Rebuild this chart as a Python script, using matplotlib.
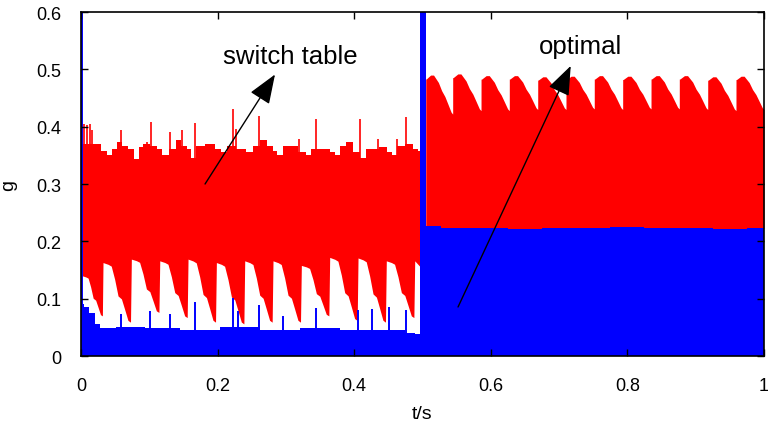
import numpy as np
import matplotlib
matplotlib.use('Agg')
import matplotlib.pyplot as plt

# ---- switch-table half (0 .. 0.496 s) ----
# red lower envelope: notches (jump time, value right after jump, value just before jump)
sw_jump_t = [0.0322, 0.0737, 0.1153, 0.1567, 0.1982, 0.2397, 0.2811, 0.3226, 0.3641, 0.4056, 0.4470, 0.4886]
sw_jump_top = [0.163, 0.169, 0.166, 0.169, 0.163, 0.166, 0.166, 0.158, 0.172, 0.171, 0.166, 0.166]
sw_jump_bot = [0.070, 0.059, 0.076, 0.067, 0.059, 0.056, 0.059, 0.059, 0.070, 0.062, 0.059, 0.067]
sw_start_low = 0.140
sw_end_t = 0.4963
# shape of one notch (fraction of period, fraction of drop)
notch_frac = [0.0, 0.18, 0.29, 0.41, 0.53, 0.65, 0.76, 0.88, 0.97]
notch_drop = [0.0, 0.03, 0.06, 0.28, 0.56, 0.61, 0.78, 0.97, 1.0]

# red upper envelope (bulk) and spikes
sw_up_t = [0.0015, 0.0249, 0.0347, 0.0420, 0.0493, 0.0566, 0.0640, 0.0736, 0.0809, 0.0882, 0.0931,
           0.1078, 0.1151, 0.1225, 0.1362, 0.1420, 0.1518, 0.1591, 0.1640, 0.1734, 0.1908, 0.2006,
           0.2104, 0.2177, 0.2347, 0.2474, 0.2572, 0.2670, 0.2768, 0.2841, 0.2890, 0.3013, 0.3109,
           0.3256, 0.3330, 0.3403, 0.3598, 0.3696, 0.3754, 0.3841, 0.3915, 0.4037, 0.4133, 0.4207,
           0.4306, 0.4426, 0.4524, 0.4573, 0.4671, 0.4817, 0.4915, 0.4963]
sw_up_g = [0.370, 0.370, 0.358, 0.350, 0.361, 0.373, 0.367, 0.361, 0.344, 0.364, 0.370,
           0.367, 0.361, 0.350, 0.361, 0.376, 0.367, 0.361, 0.346, 0.367, 0.370, 0.361,
           0.355, 0.367, 0.361, 0.355, 0.367, 0.376, 0.367, 0.358, 0.350, 0.367, 0.367,
           0.355, 0.350, 0.361, 0.361, 0.355, 0.350, 0.367, 0.373, 0.355, 0.346, 0.361,
           0.361, 0.364, 0.355, 0.350, 0.367, 0.370, 0.361, 0.358]
sw_spike_t = [0.0037, 0.0081, 0.0125, 0.0161, 0.0581, 0.0971, 0.1031, 0.1299, 0.1479, 0.1665,
              0.2226, 0.2265, 0.2611, 0.3192, 0.3440, 0.4085, 0.4343, 0.4622, 0.4754]
sw_spike_g = [0.405, 0.403, 0.405, 0.395, 0.395, 0.373, 0.409, 0.391, 0.395, 0.407,
              0.431, 0.396, 0.418, 0.378, 0.414, 0.413, 0.378, 0.378, 0.416]

# blue in switch-table half
sw_blue_t = [0.0015, 0.0059, 0.0161, 0.0249, 0.0307, 0.0720, 0.1157, 0.1743,
             0.2328, 0.2914, 0.3499, 0.4085, 0.4670, 0.4817, 0.4963]
sw_blue_g = [0.090, 0.085, 0.075, 0.055, 0.048, 0.050, 0.048, 0.046,
             0.050, 0.045, 0.048, 0.046, 0.045, 0.040, 0.038]
blue_spike_t = [0.0008, 0.0590, 0.1005, 0.1298, 0.1665, 0.2226, 0.2299, 0.2611, 0.2953, 0.3441,
                0.4060, 0.4265, 0.4514, 0.4754]
blue_spike_g = [0.65, 0.073, 0.079, 0.073, 0.094, 0.102, 0.079, 0.089, 0.070, 0.084,
                0.080, 0.082, 0.085, 0.080]

# ---- transition spike ----
jump_t = [0.4963, 0.5047]
jump_g = [0.65, 0.65]

# ---- optimal half (0.505 .. 1 s) ----
opt_tooth_t = [0.5047, 0.5442, 0.5857, 0.6271, 0.6687, 0.7101, 0.7515, 0.7931, 0.8346, 0.8760, 0.9176, 0.9590, 1.0]
opt_peak = [0.490, 0.492, 0.489, 0.489, 0.487, 0.488, 0.489, 0.488, 0.489, 0.489, 0.487, 0.488]
opt_end = [0.422, 0.428, 0.428, 0.430, 0.430, 0.431, 0.430, 0.431, 0.431, 0.430, 0.428, 0.430]
tooth_frac = [0.0, 0.02, 0.18, 0.29, 0.47, 0.59, 0.71, 0.82, 0.94, 0.999]
tooth_w = [0.90, 0.90, 1.0, 1.0, 0.81, 0.60, 0.45, 0.26, 0.05, 0.0]
opt_red_low = 0.222
opt_blue_t = [0.5047, 0.55, 0.60, 0.65, 0.70, 0.75, 0.80, 0.85, 0.90, 0.95, 1.0]
opt_blue_g = [0.226, 0.223, 0.224, 0.222, 0.224, 0.223, 0.225, 0.223, 0.224, 0.222, 0.224]

RED = '#ff0000'
BLUE = '#0000ff'

# build red lower envelope of first half
low_t = [0.0015]
low_g = [sw_start_low]
prev_t = 0.0015
prev_top = sw_start_low
for k, jt in enumerate(sw_jump_t):
    for f, d in zip(notch_frac[1:], notch_drop[1:]):
        low_t.append(prev_t + f * (jt - prev_t))
        low_g.append(prev_top - d * (prev_top - sw_jump_bot[k]))
    low_t.append(jt)
    low_g.append(sw_jump_top[k])
    prev_t = jt
    prev_top = sw_jump_top[k]
low_t.append(sw_end_t)
low_g.append(prev_top - 0.01)

# build optimal teeth
opt_t = []
opt_up = []
for k in range(len(opt_peak)):
    t0, t1 = opt_tooth_t[k], opt_tooth_t[k + 1]
    for f, w in zip(tooth_frac, tooth_w):
        opt_t.append(t0 + f * (t1 - t0))
        opt_up.append(opt_end[k] + w * (opt_peak[k] - opt_end[k]))

fig = plt.figure(figsize=(7.68, 4.35), dpi=100)
ax = fig.add_axes([0.1055, 0.1793, 0.8893, 0.7908])

# red: lower notched part and upper jagged part
ax.fill_between(low_t, low_g, 0.31, color=RED, lw=0)
ax.fill_between(sw_up_t, 0.30, sw_up_g, color=RED, lw=0, step='mid')
ax.vlines(sw_spike_t, 0.3, sw_spike_g, color=RED, lw=1.2)
ax.fill_between(opt_t, opt_red_low, opt_up, color=RED, lw=0)

# blue
ax.fill_between(sw_blue_t, 0, sw_blue_g, color=BLUE, lw=0, step='mid')
ax.vlines(blue_spike_t, 0, blue_spike_g, color=BLUE, lw=1.4)
ax.fill_between(jump_t, 0, jump_g, color=BLUE, lw=0)
ax.fill_between(opt_blue_t, 0, opt_blue_g, color=BLUE, lw=0, step='mid')

ax.set_xlim(0, 1)
ax.set_ylim(0, 0.6)
ax.set_xticks([0, 0.2, 0.4, 0.6, 0.8, 1.0])
ax.set_xticklabels(['0', '0.2', '0.4', '0.6', '0.8', '1'])
ax.set_yticks([0, 0.1, 0.2, 0.3, 0.4, 0.5, 0.6])
ax.set_yticklabels(['0', '0.1', '0.2', '0.3', '0.4', '0.5', '0.6'])
sans = ['Liberation Sans', 'DejaVu Sans']
ax.tick_params(direction='in', length=5, width=1, top=True, right=True,
               labelsize=13, pad=15)
ax.tick_params(axis='y', pad=14)
for lab in ax.get_xticklabels() + ax.get_yticklabels():
    lab.set_family(sans)
for s in ax.spines.values():
    s.set_linewidth(1.2)
ax.set_axisbelow(False)

ax.set_xlabel('t/s', family=sans, fontsize=14, labelpad=8)
ax.set_ylabel('g', family=sans, fontsize=14, labelpad=14)

aprops = dict(arrowstyle='-|>,head_length=1.3,head_width=0.5', color='black', lw=1,
              shrinkA=0, shrinkB=0, mutation_scale=14)
ax.annotate('', xy=(0.284, 0.491), xytext=(0.1816, 0.300), arrowprops=aprops)
ax.annotate('', xy=(0.717, 0.506), xytext=(0.552, 0.0855), arrowprops=aprops)
ax.text(0.306, 0.523, 'switch table', family=sans, fontsize=18.5, ha='center', va='center')
ax.text(0.731, 0.540, 'optimal', family=sans, fontsize=18.5, ha='center', va='center')

fig.savefig('out.png', dpi=100)
